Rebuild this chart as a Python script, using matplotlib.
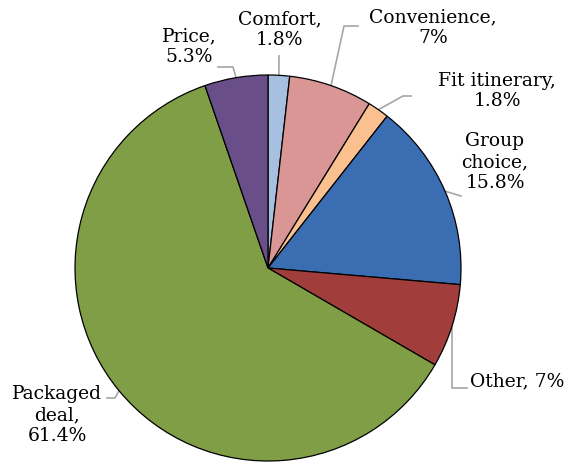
import numpy as np
import matplotlib.pyplot as plt

labels = ["Comfort", "Convenience", "Fit itinerary", "Group choice",
          "Other", "Packaged deal", "Price"]
shares = [1.8, 7, 1.8, 15.8, 7, 61.4, 5.3]
pct_text = ["1.8%", "7%", "1.8%", "15.8%", "7%", "61.4%", "5.3%"]
colors = ["#A7C0E2", "#D99694", "#FAC08F", "#3B6DB2",
          "#A13D3A", "#7F9E45", "#694E8A"]

W, H = 571, 463
cx, cy, R = 268, H - 268, 193

fig = plt.figure(figsize=(W / 100, H / 100), dpi=100)
ax = fig.add_axes([0, 0, 1, 1])
ax.axis("off")

wedges, _ = ax.pie(shares, colors=colors, startangle=90, counterclock=False,
                   center=(cx, cy), radius=R,
                   wedgeprops=dict(edgecolor="black", linewidth=0.9))
ax.set_xlim(0, W)
ax.set_ylim(0, H)
ax.set_aspect("equal")

# label text (x, y from top, alignment, text) and leader elbow points (from top)
layout = {
    "Comfort":       ((280, 30, "center", "Comfort,\n1.8%"), [(279, 56)]),
    "Convenience":   ((433, 28, "center", "Convenience,\n7%"), [(344, 26), (358, 26)]),
    "Fit itinerary": ((497, 91, "center", "Fit itinerary,\n1.8%"), [(403, 96), (411, 96)]),
    "Group choice":  ((495, 162, "center", "Group\nchoice,\n15.8%"), [(461, 196)]),
    "Other":         ((470, 381, "left", "Other, 7%"), [(452, 388), (467, 388)]),
    "Packaged deal": ((57, 415, "center", "Packaged\ndeal,\n61.4%"), [(115, 398), (107, 398)]),
    "Price":         ((189, 47, "center", "Price,\n5.3%"), [(233, 67), (218, 67)]),
}

cum = np.cumsum([0] + shares[:-1]) / sum(shares)
fracs = np.array(shares) / sum(shares)
for name, start, frac in zip(labels, cum, fracs):
    mid = np.deg2rad(90 - 360 * (start + frac / 2))
    ax0, ay0 = cx + R * np.cos(mid), cy + R * np.sin(mid)
    (tx, ty, ha, txt), elbows = layout[name]
    xs = [ax0] + [p[0] for p in elbows]
    ys = [ay0] + [H - p[1] for p in elbows]
    ax.plot(xs, ys, color="#A6A6A6", lw=1.2, zorder=0.5)
    ax.text(tx, H - ty, txt, ha=ha, va="center", fontsize=13.5,
            family="DejaVu Serif", linespacing=1.2)

fig.savefig("out.png", dpi=100)
